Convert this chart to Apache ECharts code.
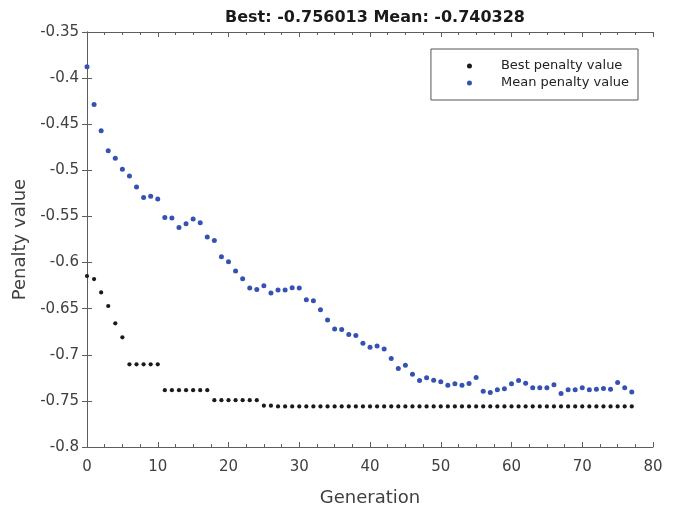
<!DOCTYPE html>
<html>
<head>
<meta charset="utf-8">
<script src="https://cdn.jsdelivr.net/npm/echarts@6/dist/echarts.min.js"></script>
<style>
html,body{margin:0;padding:0;background:#fff;}
#chart{width:686px;height:513px;}
</style>
</head>
<body>
<div id="chart"></div>
<script>
var generations = [0,1,2,3,4,5,6,7,8,9,10,11,12,13,14,15,16,17,18,19,20,21,22,23,24,25,26,27,28,29,30,31,32,33,34,35,36,37,38,39,40,41,42,43,44,45,46,47,48,49,50,51,52,53,54,55,56,57,58,59,60,61,62,63,64,65,66,67,68,69,70,71,72,73,74,75,76,77];

var bestValues = [
  -0.6146,-0.6179,-0.6324,-0.6471,-0.6659,-0.6811,-0.7103,-0.7103,-0.7103,-0.7103,
  -0.7103,-0.7384,-0.7384,-0.7384,-0.7384,-0.7384,-0.7384,-0.7384,-0.7492,-0.7492,
  -0.7492,-0.7492,-0.7492,-0.7492,-0.7492,-0.7552,-0.7552,-0.756013,-0.756013,-0.756013,
  -0.756013,-0.756013,-0.756013,-0.756013,-0.756013,-0.756013,-0.756013,-0.756013,-0.756013,-0.756013,
  -0.756013,-0.756013,-0.756013,-0.756013,-0.756013,-0.756013,-0.756013,-0.756013,-0.756013,-0.756013,
  -0.756013,-0.756013,-0.756013,-0.756013,-0.756013,-0.756013,-0.756013,-0.756013,-0.756013,-0.756013,
  -0.756013,-0.756013,-0.756013,-0.756013,-0.756013,-0.756013,-0.756013,-0.756013,-0.756013,-0.756013,
  -0.756013,-0.756013,-0.756013,-0.756013,-0.756013,-0.756013,-0.756013,-0.756013
];

var meanValues = [
  -0.3878,-0.4285,-0.4570,-0.4787,-0.4869,-0.4988,-0.5061,-0.5180,-0.5295,-0.5280,
  -0.5310,-0.5512,-0.5518,-0.5620,-0.5580,-0.5529,-0.5569,-0.5724,-0.5761,-0.5937,
  -0.5991,-0.6092,-0.6175,-0.6276,-0.6291,-0.6251,-0.6330,-0.6298,-0.6298,-0.6273,
  -0.6276,-0.6403,-0.6413,-0.6511,-0.6622,-0.6720,-0.6727,-0.6781,-0.6792,-0.6876,
  -0.6919,-0.6904,-0.6936,-0.7041,-0.7149,-0.7114,-0.7211,-0.7279,-0.7250,-0.7276,
  -0.7293,-0.7330,-0.7315,-0.7330,-0.7312,-0.7247,-0.7395,-0.7409,-0.7380,-0.7369,
  -0.7315,-0.7279,-0.7308,-0.7358,-0.7358,-0.7358,-0.7326,-0.7420,-0.7380,-0.7380,
  -0.7358,-0.7380,-0.7373,-0.7366,-0.7373,-0.7301,-0.7358,-0.740328
];

var titleText = 'Best: -0.756013 Mean: -0.740328';
var seriesNames = ['Best penalty value', 'Mean penalty value'];
var xName = 'Generation';
var yName = 'Penalty value';

var FONT = '"DejaVu Sans", "Liberation Sans", Arial, sans-serif';
var AXIS_COLOR = '#5e5e5e';
var TEXT_COLOR = '#404040';

function pairs(xs, ys) {
  var out = [];
  for (var i = 0; i < ys.length; i++) out.push([xs[i], ys[i]]);
  return out;
}

var chart = echarts.init(document.getElementById('chart'), null, {renderer: 'canvas'});

var baseAxisLine = {show: true, lineStyle: {color: AXIS_COLOR, width: 1}};

var option = {
  backgroundColor: '#ffffff',
  animation: false,
  title: {
    text: titleText,
    left: 370,
    textAlign: 'center',
    top: 5,
    textStyle: {fontFamily: FONT, fontSize: 16, fontWeight: 'bold', color: '#1a1a1a'}
  },
  legend: {
    data: seriesNames,
    orient: 'vertical',
    right: 48,
    top: 49,
    padding: [10, 9, 10, 36],
    itemGap: 3,
    itemWidth: 5,
    itemHeight: 5,
    icon: 'circle',
    borderColor: '#555555',
    borderWidth: 1,
    backgroundColor: '#ffffff',
    textStyle: {fontFamily: FONT, fontSize: 13, lineHeight: 14, color: '#222222', padding: [0, 0, 0, 24]}
  },
  grid: {left: 87, right: 33, top: 32, bottom: 66, containLabel: false},
  xAxis: [
    {
      type: 'value', position: 'bottom', min: 0, max: 80, interval: 10,
      name: xName, nameLocation: 'middle', nameGap: 42,
      nameTextStyle: {fontFamily: FONT, fontSize: 18, color: TEXT_COLOR},
      axisLine: baseAxisLine,
      axisTick: {show: true, inside: true, length: 5, lineStyle: {color: AXIS_COLOR}},
      minorTick: {show: true, splitNumber: 4, length: 3, lineStyle: {color: AXIS_COLOR}},
      axisLabel: {fontFamily: FONT, fontSize: 15, color: TEXT_COLOR, margin: 13},
      splitLine: {show: false}
    },
    {
      type: 'value', position: 'top', min: 0, max: 80, interval: 10,
      axisLine: baseAxisLine,
      axisTick: {show: true, inside: true, length: 5, lineStyle: {color: AXIS_COLOR}},
      minorTick: {show: true, splitNumber: 4, length: 3, lineStyle: {color: AXIS_COLOR}},
      axisLabel: {show: false},
      splitLine: {show: false}
    }
  ],
  yAxis: [
    {
      type: 'value', position: 'left', min: -0.8, max: -0.35, interval: 0.05,
      name: yName, nameLocation: 'middle', nameGap: 58,
      nameTextStyle: {fontFamily: FONT, fontSize: 18, color: TEXT_COLOR},
      axisLine: baseAxisLine,
      axisTick: {show: true, inside: true, length: 5, lineStyle: {color: AXIS_COLOR}},
      axisLabel: {
        fontFamily: FONT, fontSize: 15, color: TEXT_COLOR, margin: 8,
        formatter: function (v) { return String(parseFloat(v.toFixed(2))); }
      },
      splitLine: {show: false}
    },
    {
      type: 'value', position: 'right', min: -0.8, max: -0.35, interval: 0.05,
      axisLine: baseAxisLine,
      axisTick: {show: true, inside: true, length: 5, lineStyle: {color: AXIS_COLOR}},
      axisLabel: {show: false},
      splitLine: {show: false}
    }
  ],
  series: [
    {
      name: seriesNames[0], type: 'scatter', xAxisIndex: 0, yAxisIndex: 0,
      symbol: 'circle', symbolSize: 4.2,
      itemStyle: {color: '#1a1a1a', opacity: 1},
      data: pairs(generations, bestValues)
    },
    {
      name: seriesNames[1], type: 'scatter', xAxisIndex: 0, yAxisIndex: 0,
      symbol: 'circle', symbolSize: 5,
      itemStyle: {color: '#3552b2', opacity: 1},
      data: pairs(generations, meanValues)
    }
  ]
};

chart.setOption(option);
</script>
</body>
</html>
